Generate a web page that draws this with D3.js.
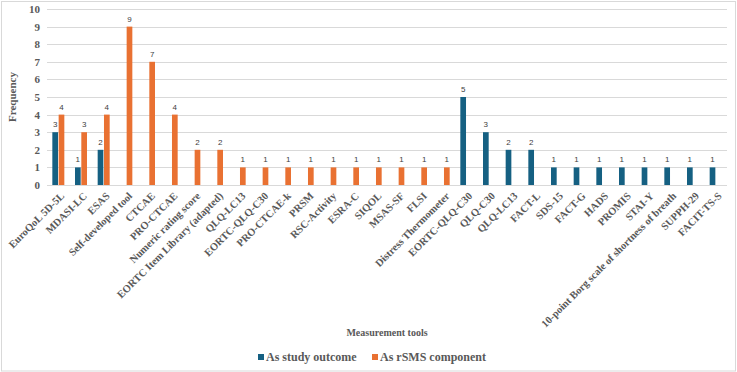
<!DOCTYPE html>
<meta charset="utf-8">
<style>
body { margin: 0; background: #fff; }
svg text { font-family: "Liberation Serif", "Times New Roman", serif; }
</style>
<body>
<script src="https://cdnjs.cloudflare.com/ajax/libs/d3/7.8.5/d3.min.js"></script>
<script>

var width = 737,
    height = 372;

// categories (some names repeat, so bars are placed by index)
var tools = ["EuroQoL 5D-5L", "MDASI-LC", "ESAS", "Self-developed tool", "CTCAE", "PRO-CTCAE",
    "Numeric rating score", "EORTC Item Library (adapted)", "QLQ-LC13", "EORTC-QLQ-C30",
    "PRO-CTCAE-k", "PRSM", "RSC-Activity", "ESRA-C", "SIQOL", "MSAS-SF", "FLSI",
    "Distress Thermometer", "EORTC-QLQ-C30", "QLQ-C30", "QLQ-LC13", "FACT-L", "SDS-15",
    "FACT-G", "HADS", "PROMIS", "STAI-Y", "10-point Borg scale of shortness of breath",
    "SUPPH-29", "FACIT-TS-S"];
var studyOutcome = [3, 1, 2, 0, 0, 0, 0, 0, 0, 0, 0, 0, 0, 0, 0, 0, 0, 0,
    5, 3, 2, 2, 1, 1, 1, 1, 1, 1, 1, 1];
var rsmsComponent = [4, 3, 4, 9, 7, 4, 2, 2, 1, 1, 1, 1, 1, 1, 1, 1, 1, 1,
    0, 0, 0, 0, 0, 0, 0, 0, 0, 0, 0, 0];
var seriesNames = ["As study outcome", "As rSMS component"];
var colors = ["#156082", "#E97132"];
var yTicks = [0, 1, 2, 3, 4, 5, 6, 7, 8, 9, 10];

var series = [studyOutcome, rsmsComponent];

var margin = {left: 47, right: 10, top: 9, bottom: 187};

var svg = d3.select("body").append("svg")
    .attr("width", width)
    .attr("height", height);

svg.append("rect")
    .attr("x", 1.5).attr("y", 1.5)
    .attr("width", width - 3).attr("height", height - 2.5)
    .attr("fill", "#fff")
    .attr("stroke", "#d9d9d9");

var x = d3.scaleBand()
    .domain(d3.range(tools.length))
    .range([margin.left, width - margin.right]);

// two bars per category, about 12px wide together
var xInner = d3.scaleBand()
    .domain([0, 1])
    .range([x.bandwidth() / 2 - 6, x.bandwidth() / 2 + 6])
    .paddingInner(0.1);

var y = d3.scaleLinear()
    .domain([0, 10])
    .range([height - margin.bottom, margin.top]);

// gridlines
svg.append("g")
    .selectAll("line")
    .data(yTicks)
    .enter().append("line")
    .attr("x1", margin.left)
    .attr("x2", width - margin.right)
    .attr("y1", function(d) { return Math.round(y(d)) + 0.5; })
    .attr("y2", function(d) { return Math.round(y(d)) + 0.5; })
    .attr("stroke", "#d9d9d9")
    .attr("stroke-width", 1);

// y axis labels
var yAxis = d3.axisLeft(y).tickValues(yTicks).tickSize(0).tickPadding(7);
var gy = svg.append("g")
    .attr("transform", "translate(" + margin.left + ",0)")
    .call(yAxis);
gy.select(".domain").remove();
gy.selectAll("text")
    .attr("fill", "#595959")
    .style("font-size", "11px")
    .style("font-weight", "bold");

// bars
series.forEach(function(vals, s) {
    var g = svg.append("g");
    vals.forEach(function(v, i) {
        if (!v) return;
        g.append("rect")
            .attr("x", x(i) + xInner(s))
            .attr("width", xInner.bandwidth())
            .attr("y", y(v))
            .attr("height", y(0) - y(v))
            .attr("fill", colors[s]);
        g.append("text")
            .attr("x", x(i) + xInner(s) + xInner.bandwidth() / 2)
            .attr("y", y(v) - 5)
            .attr("text-anchor", "middle")
            .attr("fill", "#404040")
            .style("font-family", "'Liberation Sans', Arial, sans-serif")
            .style("font-size", "8px")
            .text(v);
    });
});

// x axis labels
var gx = svg.append("g");
tools.forEach(function(t, i) {
    var cx = x(i) + x.bandwidth() / 2 + 4;
    gx.append("text")
        .attr("transform", "translate(" + cx + "," + (y(0) + 9) + ") rotate(-45)")
        .attr("text-anchor", "end")
        .attr("dy", "0.35em")
        .attr("fill", "#595959")
        .style("font-size", "10.5px")
        .style("font-weight", "bold")
        .text(t);
});

// axis titles
svg.append("text")
    .attr("transform", "translate(16," + ((y(0) + y(10)) / 2) + ") rotate(-90)")
    .attr("text-anchor", "middle")
    .attr("fill", "#595959")
    .style("font-size", "11px")
    .style("font-weight", "bold")
    .text("Frequency");

svg.append("text")
    .attr("x", 387)
    .attr("y", 336)
    .attr("text-anchor", "middle")
    .attr("fill", "#595959")
    .style("font-size", "10px")
    .style("font-weight", "bold")
    .text("Measurement tools");

// legend
var legendX = [258, 372];
seriesNames.forEach(function(n, s) {
    var lg = svg.append("g").attr("transform", "translate(" + legendX[s] + ",361)");
    lg.append("rect")
        .attr("x", 0).attr("y", -7)
        .attr("width", 6).attr("height", 6)
        .attr("fill", colors[s]);
    lg.append("text")
        .attr("x", 8)
        .attr("y", 0)
        .attr("fill", "#595959")
        .style("font-size", "12px")
        .style("font-weight", "bold")
        .text(n);
});
</script>
